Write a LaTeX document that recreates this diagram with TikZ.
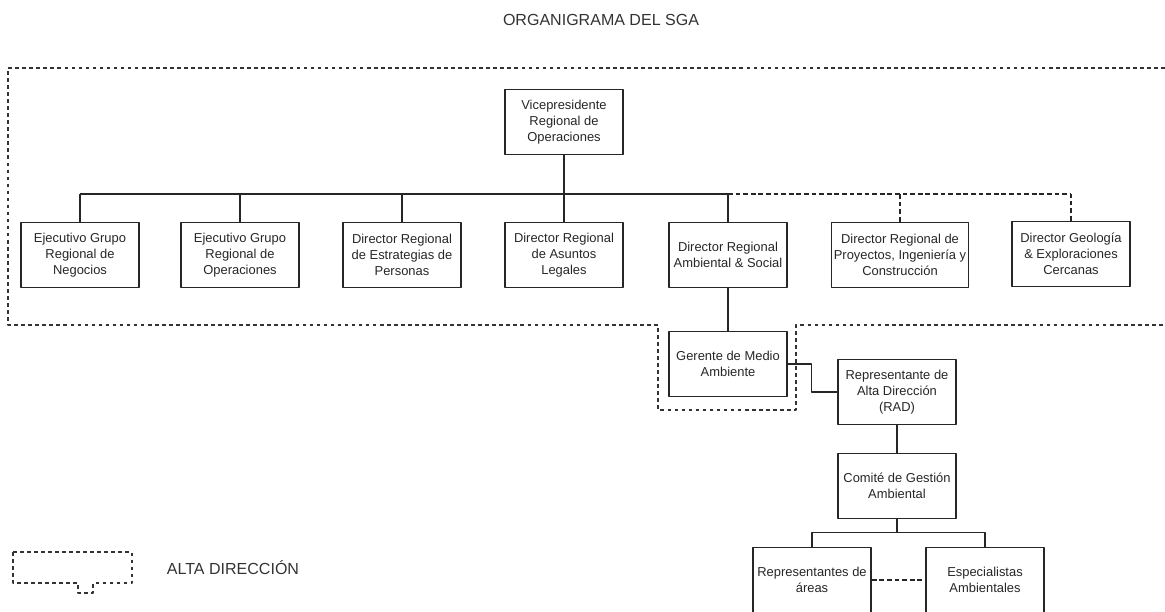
\documentclass[tikz,border=0pt]{standalone}
\usepackage{fontspec}
\setmainfont{Liberation Sans}
\begin{document}
\begin{tikzpicture}[x=0.025cm, y=-0.025cm, line join=round,
	caja/.style={draw=black!85, line width=1.15pt, text=black!85, align=center, inner sep=1pt, minimum width=2.95cm, minimum height=1.625cm, font=\fontsize{9.2}{11.4}\selectfont},
	linea/.style={line width=0.9pt, black!85},
	trazos/.style={line width=0.9pt, black!85, dash pattern=on 3.4pt off 2pt},
	marco/.style={line width=0.9pt, black!80, dash pattern=on 2.6pt off 2.4pt}]
	\useasboundingbox (0,0) rectangle (1165,612);
	\node[font=\fontsize{11.4}{14}\selectfont, text=black!80] (titulo) at (601,20) {ORGANIGRAMA DEL SGA};
	% alta direccion
	\draw[marco] (1165,68)--(8,68)--(8,325)--(658,325)--(658,410)--(796,410)--(796,325)--(1165,325);
	\node[caja] (vp) at (564,122) {Vicepresidente\\Regional de\\Operaciones};
	\node[caja] (egn) at (80,255) {Ejecutivo Grupo\\Regional de\\Negocios};
	\node[caja] (ego) at (240,255) {Ejecutivo Grupo\\Regional de\\Operaciones};
	\node[caja] (dre) at (402,255) {Director Regional\\de Estrategias de\\Personas};
	\node[caja] (dal) at (564,255) {Director Regional\\de Asuntos\\Legales};
	\node[caja] (dra) at (728,255) {Director Regional\\Ambiental \& Social};
	\node[caja, minimum width=3.43cm] (dpi) at (900,255) {Director Regional de\\Proyectos, Ingeniería y\\Construcción};
	\node[caja] (dge) at (1071,254) {Director Geología\\\& Exploraciones\\Cercanas};
	\coordinate (bus) at (0,194);
	\draw[linea] (vp.south)--(vp.south |- bus);
	\draw[linea] (egn.north |- bus)--(dra.north |- bus);
	\foreach \cargo in {egn,ego,dre,dal,dra}\draw[linea] (\cargo.north)--(\cargo.north |- bus);
	\draw[trazos] (dra.north |- bus)--(dge.north |- bus);
	\foreach \cargo in {dpi,dge}\draw[trazos] (\cargo.north)--(\cargo.north |- bus);
	% sistema de gestion ambiental
	\node[caja] (gma) at (728,364) {Gerente de Medio\\Ambiente};
	\node[caja] (rad) at (897,392) {Representante de\\Alta Dirección\\(RAD)};
	\node[caja] (cga) at (897,486) {Comité de Gestión\\Ambiental};
	\node[caja] (ra) at (812,580) {Representantes de\\áreas};
	\node[caja] (ea) at (985,580) {Especialistas\\Ambientales};
	\draw[linea] (dra.south)--(gma.north);
	\draw[linea] (gma.east)--++(24,0) |- (rad.west);
	\draw[linea] (rad.south)--(cga.north);
	\draw[linea] (cga.south)--++(0,13) -| (ra.north);
	\draw[linea] (cga.south)--++(0,13) -| (ea.north);
	\draw[trazos] (ra.east)--(ea.west);
	% leyenda
	\draw[marco] (13,552)--(132,552)--(132,583)--(93,583)--(93,593)--(78,593)--(78,583)--(13,583)--cycle;
	\node[font=\fontsize{11.4}{14}\selectfont, text=black!80] (leyenda) at (233,568) {ALTA DIRECCIÓN};
\end{tikzpicture}
\end{document}
